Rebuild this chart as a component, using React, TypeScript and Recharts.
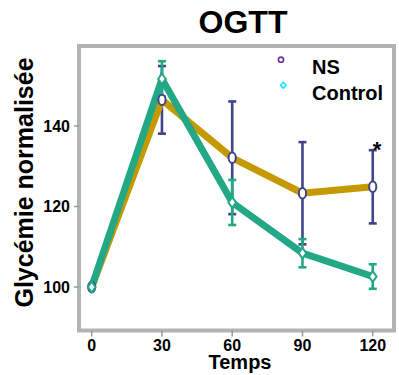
import React from 'react';
import { ComposedChart, Line, XAxis, YAxis, ErrorBar, ReferenceArea, ReferenceDot, Legend } from 'recharts';

const times = [0, 30, 60, 90, 120];
const nsMean = [100, 146.5, 132.1, 123.3, 124.9];
const nsErr = [0, 8.4, 14.0, 12.7, 9.1];
const ctrlMean = [100, 151.7, 121.0, 108.4, 102.6];
const ctrlErr = [0, 4.4, 5.6, 3.5, 3.05];
const xTicks = [0, 30, 60, 90, 120];
const yTicks = [100, 120, 140];
const xDomain: [number, number] = [-5.42, 129.08];
const yDomain: [number, number] = [89.19, 159.88];
const seriesNames = ['NS', 'Control'];

const data = times.map((t, i) => ({
  t,
  ns: nsMean[i],
  nsErr: nsErr[i],
  ctrl: ctrlMean[i],
  ctrlErr: ctrlErr[i],
}));

const GOLD = '#C49A00';
const TEAL = '#22A884';
const NAVY = '#3F4588';
const FONT = '"Liberation Sans", Arial, Helvetica, sans-serif';

const CircleDot = (p: any) => {
  if (p.cx == null || p.cy == null) return null;
  return <ellipse key={`c${p.index}`} cx={p.cx} cy={p.cy} rx={3.6} ry={5.2} fill="#fff" stroke={NAVY} strokeWidth={2} />;
};
const DiamondDot = (p: any) => {
  if (p.cx == null || p.cy == null) return null;
  const w = 3.8, h = 5.4;
  return (
    <path
      key={`d${p.index}`}
      d={`M${p.cx},${p.cy - h}L${p.cx + w},${p.cy}L${p.cx},${p.cy + h}L${p.cx - w},${p.cy}Z`}
      fill="#fff"
      stroke={TEAL}
      strokeWidth={2}
    />
  );
};

const LegendContent = () => (
  <svg width={125} height={60} style={{ overflow: 'visible', display: 'block' }}>
    <circle cx={11} cy={11.7} r={2.6} fill="none" stroke="#7030A0" strokeWidth={1.6} />
    <path d="M13.3,34.3L16,37.3L13.3,40.3L10.6,37.3Z" fill="none" stroke="#1CE6F5" strokeWidth={1.6} />
    <text x={42} y={26} fontFamily={FONT} fontWeight="bold" fontSize={20} fill="#000">{seriesNames[0]}</text>
    <text x={42} y={52} fontFamily={FONT} fontWeight="bold" fontSize={20} fill="#000">{seriesNames[1]}</text>
  </svg>
);

const Star = (p: any) => (
  <text x={p.cx} y={p.cy} textAnchor="middle" fontFamily={FONT} fontWeight="bold" fontSize={22} fill="#000">*</text>
);

export default function App() {
  return (
    <div style={{ position: 'absolute', left: 0, top: 0, width: 399, height: 375, background: '#fff' }}>
      <ComposedChart
        width={399}
        height={375}
        data={data}
        margin={{ top: 46, right: 5, left: 0, bottom: 0 }}
      >
        <XAxis
          dataKey="t"
          type="number"
          domain={xDomain}
          ticks={xTicks}
          allowDataOverflow
          axisLine={false}
          tickLine={{ stroke: '#999', strokeWidth: 1.5 }}
          tickSize={6}
          tickMargin={3}
          height={44.5}
          tick={{ fill: '#000', fontSize: 16, fontWeight: 'bold', fontFamily: FONT }}
        />
        <YAxis
          type="number"
          domain={yDomain}
          ticks={yTicks}
          allowDataOverflow
          axisLine={false}
          tickLine={{ stroke: '#999', strokeWidth: 1.5 }}
          tickSize={5}
          tickMargin={4}
          width={79}
          tick={{ fill: '#000', fontSize: 16, fontWeight: 'bold', fontFamily: FONT }}
        />
        <ReferenceArea
          x1={xDomain[0]}
          x2={xDomain[1]}
          y1={yDomain[0]}
          y2={yDomain[1]}
          fill="none"
          fillOpacity={0}
          stroke="#B3B3B3"
          strokeWidth={4}
          ifOverflow="visible"
        />
        <Line
          dataKey="ns"
          name={seriesNames[0]}
          stroke={GOLD}
          strokeWidth={7}
          dot={CircleDot}
          activeDot={false}
          isAnimationActive={false}
        >
          <ErrorBar dataKey="nsErr" direction="y" width={4} stroke={NAVY} strokeWidth={2.6} isAnimationActive={false} />
        </Line>
        <Line
          dataKey="ctrl"
          name={seriesNames[1]}
          stroke={TEAL}
          strokeWidth={7}
          dot={DiamondDot}
          activeDot={false}
          isAnimationActive={false}
        >
          <ErrorBar dataKey="ctrlErr" direction="y" width={4} stroke={TEAL} strokeWidth={2.6} isAnimationActive={false} />
        </Line>
        <ReferenceDot x={121.8} y={132.3} r={0} shape={Star} ifOverflow="visible" />
        <Legend
          layout="vertical"
          align="center"
          verticalAlign="middle"
          content={LegendContent}
          wrapperStyle={{ position: 'absolute', left: 270, top: 48, width: 125, height: 60 }}
        />
      </ComposedChart>
      <svg
        width={399}
        height={375}
        style={{ position: 'absolute', left: 0, top: 0, pointerEvents: 'none' }}
      >
        <text x={243} y={33} textAnchor="middle" fontFamily={FONT} fontWeight="bold" fontSize={32} fill="#000">OGTT</text>
        <text x={240} y={369} textAnchor="middle" fontFamily={FONT} fontWeight="bold" fontSize={20} fill="#000">Temps</text>
        <text
          x={0}
          y={0}
          transform="translate(32.5,182.5) rotate(-90)"
          textAnchor="middle"
          fontFamily={FONT}
          fontWeight="bold"
          fontSize={25}
          fill="#000"
        >
          Glycémie normalisée
        </text>
      </svg>
    </div>
  );
}
